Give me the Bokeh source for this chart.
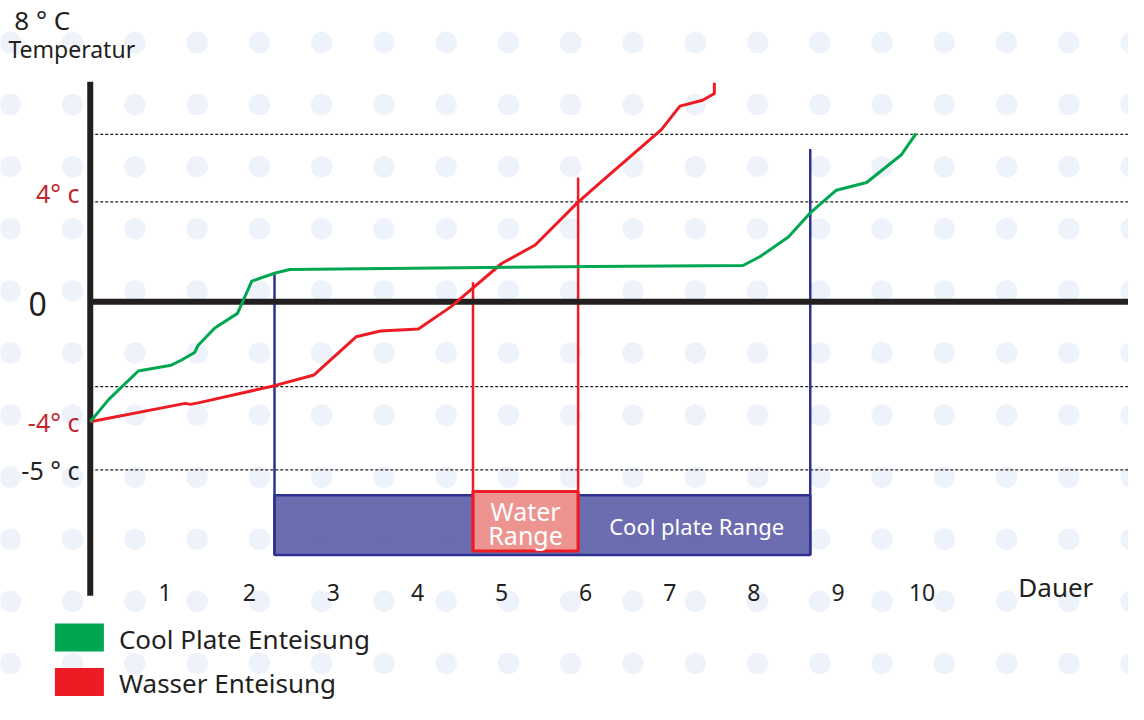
import numpy as np
from bokeh.plotting import figure
from bokeh.models import Range1d, ColumnDataSource
from bokeh.core.properties import value
from bokeh.embed import file_html
from bokeh.resources import INLINE

FONT = "Noto Sans"

# ---- data (x in "Dauer" units, y in chart temperature units) ----
green_x = [0.109, 0.33, 0.68, 1.07, 1.19, 1.35, 1.39, 1.59, 1.86, 2.03, 2.30, 2.48, 6.08, 7.87, 8.07, 8.41, 8.66, 8.98, 9.34, 9.75, 9.93]
green_y = [-4.82, -3.92, -2.78, -2.55, -2.35, -2.04, -1.76, -1.06, -0.47, 0.82, 1.14, 1.29, 1.41, 1.45, 1.80, 2.59, 3.53, 4.47, 4.78, 5.88, 6.75]

red_x = [0.109, 1.24, 1.30, 1.42, 2.30, 2.77, 3.27, 3.56, 4.01, 4.40, 5.00, 5.40, 5.90, 6.19, 6.90, 7.12, 7.39, 7.53, 7.53]
red_y = [-4.82, -4.08, -4.12, -4.04, -3.37, -2.94, -1.41, -1.18, -1.10, -0.20, 1.53, 2.27, 3.96, 4.82, 6.90, 7.84, 8.08, 8.35, 8.78]

ref_lines = [6.71, 4.0, -3.41, -6.75]

x_ticks = [1, 2, 3, 4, 5, 6, 7, 8, 9, 10]
x_tick_labels = ["1", "2", "3", "4", "5", "6", "7", "8", "9", "10"]

y_label_pos = [4.35, -4.82, -6.75]
y_label_text = ["4° c", "-4° c", "-5 ° c"]
y_label_color = ["#C1272D", "#C1272D", "#231F20"]

cool_range = [2.30, 8.67]      # Cool plate range (x)
water_range = [4.66, 5.91]     # Water range (x)
cool_tops = [1.10, 6.12]       # tops of blue verticals
water_tops = [0.78, 4.98]      # tops of red verticals
cool_box_y = [-10.16, -7.76]
water_box_y = [-10.0, -7.61]

legend_labels = ["Cool Plate Enteisung", "Wasser Enteisung"]
legend_colors = ["#00A651", "#ED1C24"]
legend_y = [-13.47, -15.25]

X0, X1 = -0.958, 12.454
Y0, Y1 = -16.157, 12.078
AXIS_X = 0.109

p = figure(width=1128, height=704, x_range=Range1d(X0, X1), y_range=Range1d(Y0, Y1),
           output_backend="svg", toolbar_location=None, min_border=0,
           x_axis_location=None, y_axis_location=None)
p.grid.visible = False
p.outline_line_color = None
p.background_fill_color = "white"

# background dot pattern
dx, dy = 0.7403, 2.490
gx = np.arange(-0.8406, X1 + 0.5, dx)
gy = 10.392 - dy * np.arange(0, 11)
GX, GY = np.meshgrid(gx, gy)
p.scatter(GX.ravel(), GY.ravel(), size=21.5, marker="circle", fill_color="#EEF2FA", line_color=None)

# dashed reference lines
for yv in ref_lines:
    p.line([AXIS_X, X1], [yv, yv], line_color="#231F20", line_width=1.2, line_dash="3 2")

# cool plate range box
p.quad(left=[cool_range[0]], right=[cool_range[1]], bottom=[cool_box_y[0]], top=[cool_box_y[1]],
       fill_color="#5253A2", fill_alpha=0.85, line_color="#2E3192", line_width=2.5)
# blue verticals
for xv, top in zip(cool_range, cool_tops):
    p.line([xv, xv], [cool_box_y[0], top], line_color="#2E3192", line_width=2.5)

# water range box
p.quad(left=[water_range[0]], right=[water_range[1]], bottom=[water_box_y[0]], top=[water_box_y[1]],
       fill_color="#F4978F", fill_alpha=0.95, line_color="#ED1C24", line_width=3)
for xv, top in zip(water_range, water_tops):
    p.line([xv, xv], [water_box_y[0], top], line_color="#ED1C24", line_width=2.5)

# axes lines
p.line([AXIS_X, X1], [0, 0], line_color="#231F20", line_width=6)
p.line([AXIS_X, AXIS_X], [-11.80, 8.82], line_color="#231F20", line_width=6)

# curves
p.line(red_x, red_y, line_color="#ED1C24", line_width=3, line_join="round")
p.line(green_x, green_y, line_color="#00A651", line_width=3, line_join="round")

# box texts
wx = (water_range[0] + water_range[1]) / 2
p.text([wx, wx], [-8.39, -9.37], text=["Water", "Range"], text_color="white",
       text_font=value(FONT), text_font_size="25px", text_align="center", text_baseline="middle")
p.text([7.32], [-8.98], text=["Cool plate Range"], text_color="white",
       text_font=value(FONT), text_font_size="22px", text_align="center", text_baseline="middle")

# x tick labels
p.text(x_ticks, [-11.65] * len(x_ticks), text=x_tick_labels, text_color="#231F20",
       text_font=value(FONT), text_font_size="23px", text_align="center", text_baseline="middle")
p.text([11.59], [-11.45], text=["Dauer"], text_color="#231F20",
       text_font=value(FONT), text_font_size="26px", text_align="center", text_baseline="middle")

# y labels
src = ColumnDataSource(dict(x=[-0.02] * 3, y=y_label_pos, t=y_label_text, c=y_label_color))
p.text("x", "y", text="t", text_color="c", source=src, text_font=value(FONT),
       text_font_size="25px", text_align="right", text_baseline="middle")
p.text([-0.407], [-0.08], text=["0"], text_color="#231F20", text_font=value(FONT),
       text_font_size="32px", text_align="right", text_baseline="middle")
p.text([-0.794], [11.29], text=["8 ° C"], text_color="#231F20", text_font=value(FONT),
       text_font_size="26px", text_align="left", text_baseline="middle")
p.text([-0.864], [10.12], text=["Temperatur"], text_color="#231F20", text_font=value(FONT),
       text_font_size="23px", text_align="left", text_baseline="middle")

# legend
p.rect([-0.02] * 2, legend_y, width=49, height=28, width_units="screen", height_units="screen",
       fill_color=legend_colors, line_color=None)
p.text([0.45] * 2, [y - 0.06 for y in legend_y], text=legend_labels, text_color="#231F20",
       text_font=value(FONT), text_font_size="26px", text_align="left", text_baseline="middle")

open("out.html", "w").write(file_html(p, INLINE))
